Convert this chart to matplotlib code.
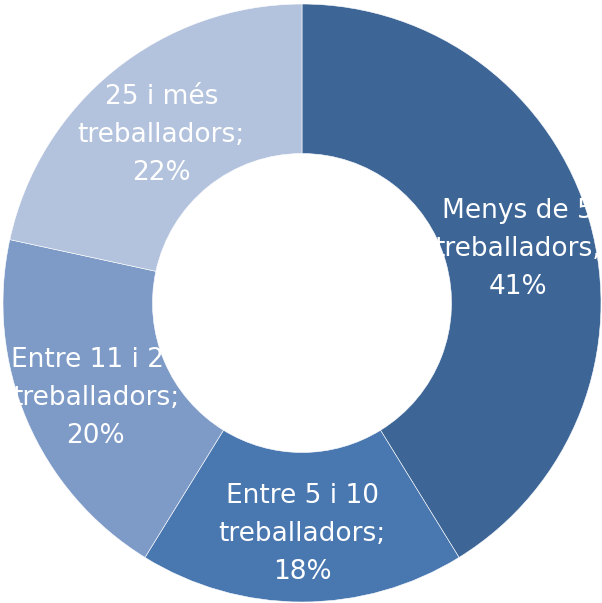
import matplotlib.pyplot as plt
import matplotlib.patches as mpatches
import numpy as np

categories = ['Menys de 5', 'Entre 5 i 10', 'Entre 11 i 24', '25 i més']
shares = [41.2, 17.6, 19.6, 21.6]
pct_labels = ['41%', '18%', '20%', '22%']
colors = ['#3d6697', '#4977b0', '#7e9bc8', '#b4c3dd']

W, H = 602, 603
fig = plt.figure(figsize=(W / 100, H / 100), dpi=100)
ax = fig.add_axes([0, 0, 1, 1])

cx, cy, r = 302, 300, 299
wedges, _ = ax.pie(shares, colors=colors, startangle=90, counterclock=False,
                   center=(cx, cy), radius=r, frame=True,
                   wedgeprops=dict(width=r * 0.5, edgecolor='white', linewidth=0.4))
ax.set_xlim(0, W)
ax.set_ylim(0, H)
ax.set_aspect('equal')
ax.axis('off')

# text boxes of the original are narrower than some lines: clip them
# (left, right) in pixels per label and line; None = no clipping
clips = [
    [(437, 599)] * 3,
    [None] * 3,
    [(15, 159), (15, 180), (15, 180)],
    [None] * 3,
]
line_gap = 38
for w, cat, pct, clip in zip(wedges, categories, pct_labels, clips):
    ang = np.deg2rad((w.theta1 + w.theta2) / 2)
    x = cx + 0.75 * r * np.cos(ang)
    y = cy + 0.75 * r * np.sin(ang) - 4
    for i, line in enumerate([cat, 'treballadors;', pct]):
        ly = y + (1 - i) * line_gap
        t = ax.text(x, ly, line, ha='center', va='center_baseline',
                    color='white', fontsize=19, family='DejaVu Sans')
        if clip[i] is not None:
            x0, x1 = clip[i]
            t.set_clip_path(mpatches.Rectangle((x0, ly - 30), x1 - x0, 60,
                                               transform=ax.transData))

fig.savefig('out.png', dpi=100)
